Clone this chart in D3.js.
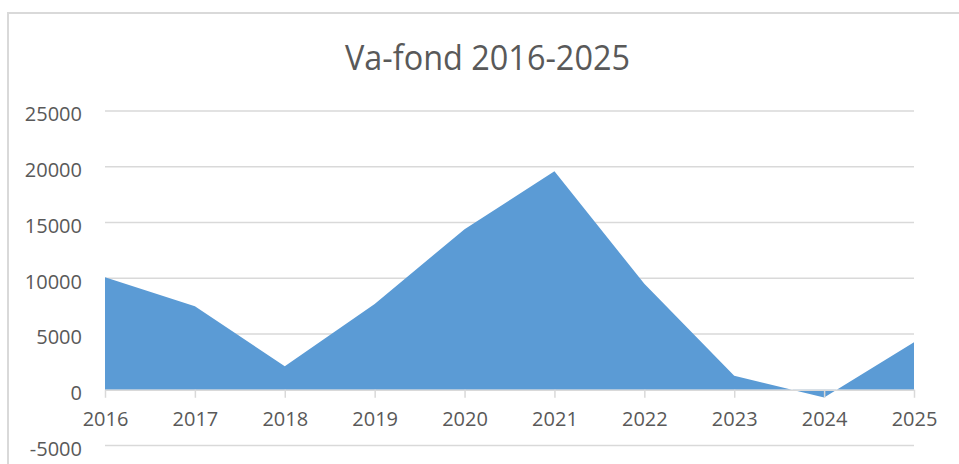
<!DOCTYPE html>
<html><head><meta charset="utf-8">
<script src="https://cdn.jsdelivr.net/npm/d3@7"></script>
<style>html,body{margin:0;padding:0;background:#fff;}svg{display:block;}</style>
</head><body>
<svg id="c" width="959" height="464"></svg>
<script>
const title = "Va-fond 2016-2025";
const years = ["2016","2017","2018","2019","2020","2021","2022","2023","2024","2025"];
const values = [10100, 7500, 2100, 7700, 14400, 19600, 9500, 1250, -700, 4250];
const yTicks = [-5000, 0, 5000, 10000, 15000, 20000, 25000];

(function () {
const svg = d3.select("#c");
const pLeft = 105, pRight = 914, pTop = 111, pBottom = 445.5;

// chart border
svg.append("rect").attr("x", 8).attr("y", 13).attr("width", 980).attr("height", 480)
  .attr("fill", "#fff").attr("stroke", "#d9d9d9").attr("stroke-width", 2);

const x = d3.scalePoint().domain(years).range([pLeft, pRight]);
const y = d3.scaleLinear().domain([-5000, 25000]).range([pBottom, pTop]);

// gridlines
svg.append("g").selectAll("line").data(yTicks.filter(d => d !== 0)).join("line")
  .attr("x1", pLeft).attr("x2", pRight)
  .attr("y1", d => y(d)).attr("y2", d => y(d))
  .attr("stroke", "#d9d9d9").attr("stroke-width", 1.5);

// area
const area = d3.area().x((d, i) => x(years[i])).y0(y(0)).y1(d => y(d));
svg.append("path").datum(values).attr("d", area).attr("fill", "#5b9bd5");

// y labels
svg.append("g").selectAll("text").data(yTicks).join("text")
  .attr("x", 82).attr("y", d => y(d) + 5).attr("text-anchor", "end")
  .attr("dominant-baseline", "middle")
  .attr("font-family", "Open Sans, sans-serif").attr("font-size", 20).attr("fill", "#595959")
  .text(d => d);

// x axis
const xAxis = d3.axisBottom(x).tickSize(8).tickSizeOuter(0).tickPadding(14);
const gx = svg.append("g").attr("transform", `translate(0,${y(0)})`).call(xAxis);
gx.select(".domain").attr("stroke", "#d9d9d9").attr("stroke-width", 1.5);
gx.selectAll(".tick line").attr("stroke", "#d9d9d9").attr("stroke-width", 1.5);
gx.selectAll(".tick text").attr("font-family", "Open Sans, sans-serif").attr("font-size", 20).attr("fill", "#595959");

// title
svg.append("text").attr("x", 487.5).attr("y", 69.5).attr("text-anchor", "middle")
  .attr("font-family", "Open Sans, sans-serif").attr("font-size", 34).attr("fill", "#595959")
  .attr("textLength", 285).attr("lengthAdjust", "spacingAndGlyphs")
  .text(title);
})();
</script>
</body></html>
